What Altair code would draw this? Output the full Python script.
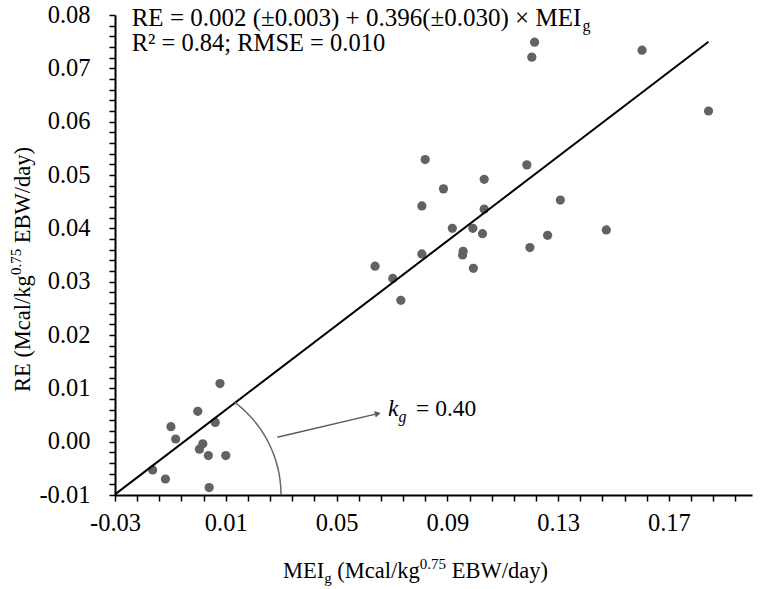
import math
import numpy as np
import pandas as pd
import altair as alt

FONT = "Liberation Serif"

# ---- data ----
mei = [-0.0164, -0.0118, -0.0098, -0.0081, -0.0001, 0.0017, 0.0005, 0.0037, 0.0062, 0.0079, 0.0100, 0.0040,
       0.0820, 0.1187, 0.1033, 0.0886, 0.0808, 0.1308, 0.1033, 0.0918, 0.0992, 0.1027, 0.1262, 0.1474,
       0.1198, 0.0808, 0.0957, 0.0955, 0.0639, 0.0703, 0.0994, 0.0732,
       0.1215, 0.1205, 0.1603, 0.1843]
re = [-0.0053, -0.0070, 0.0028, 0.0005, 0.0057, -0.0004, -0.0014, -0.0026, 0.0036, 0.0109, -0.0026, -0.0086,
      0.0529, 0.0519, 0.0492, 0.0474, 0.0442, 0.0453, 0.0436, 0.0400, 0.0400, 0.0390, 0.0387, 0.0397,
      0.0364, 0.0352, 0.0357, 0.0350, 0.0329, 0.0306, 0.0325, 0.0265,
      0.0749, 0.0721, 0.0734, 0.0620]

intercept = 0.002
slope = 0.396
x_domain = [-0.03, 0.20]
y_domain = [-0.01, 0.08]
x_major = [-0.03, 0.01, 0.05, 0.09, 0.13, 0.17]
y_major = [-0.01, 0.00, 0.01, 0.02, 0.03, 0.04, 0.05, 0.06, 0.07, 0.08]
x_ticks = [round(-0.03 + 0.008 * i, 3) + 0.0 for i in range(29)]
y_ticks = [round(-0.01 + 0.002 * i, 3) + 0.0 for i in range(46)]

# ---- layout ----
W, H = 637, 480
PL, PT = 115, 15
LBL = 24.5

x_axis = alt.Axis(values=x_ticks, title=None, grid=False,
                  labelExpr="round((datum.value + 0.03) * 1000) % 40 == 0 ? replace(format(datum.value, '.2f'), '\u2212', '-') : ''",
                  tickSize=6, tickWidth=1.5, tickColor="black", domainColor="black", domainWidth=2,
                  labelFont=FONT, labelFontSize=LBL, labelColor="black", labelPadding=10,
                  labelFlush=False, labelOverlap=False, labelAngle=0)
y_axis = alt.Axis(values=y_ticks, title=None, grid=False,
                  labelExpr="round((datum.value + 0.01) * 1000) % 10 == 0 ? replace(format(datum.value, '.2f'), '\u2212', '-') : ''",
                  tickSize=6, tickWidth=1.5, tickColor="black", domainColor="black", domainWidth=2,
                  labelFont=FONT, labelFontSize=LBL, labelColor="black", labelPadding=19,
                  labelOverlap=False)

X = alt.X("x:Q", scale=alt.Scale(domain=x_domain, nice=False, zero=False), axis=x_axis)
Y = alt.Y("y:Q", scale=alt.Scale(domain=y_domain, nice=False, zero=False), axis=y_axis)

pts = pd.DataFrame({"x": mei, "y": re})
points = alt.Chart(pts).mark_circle(size=85, color="#626262", opacity=1).encode(x=X, y=Y)

lx = [x_domain[0], max(mei)]
line_df = pd.DataFrame({"x": lx, "y": [intercept + slope * v for v in lx]})
reg = alt.Chart(line_df).mark_line(color="black", strokeWidth=2).encode(x=X, y=Y)

# angle arc (annotation), in data units
px_per_x = W / (x_domain[1] - x_domain[0])
px_per_y = H / (y_domain[1] - y_domain[0])
arc_cx = x_domain[0] + 50 / px_per_x
arc_r = 116
ang = np.linspace(math.radians(53), 0, 40)
arc_df = pd.DataFrame({
    "x": arc_cx + arc_r * np.cos(ang) / px_per_x,
    "y": y_domain[0] + arc_r * np.sin(ang) / px_per_y,
    "o": np.arange(len(ang)),
})
arc = alt.Chart(arc_df).mark_line(color="#666666", strokeWidth=1.5).encode(x=X, y=Y, order="o:Q")


def txt(s, x, y, size, italic=False, angle=0, color="black"):
    return alt.Chart(pd.DataFrame({"t": [s]})).mark_text(
        align="left", baseline="alphabetic", font=FONT, fontSize=size,
        fontStyle="italic" if italic else "normal", angle=angle, color=color
    ).encode(x=alt.value(x - PL), y=alt.value(y - PT), text="t:N")


# arrow
ax0, ay0 = 277.3, 437.3
tipx, tipy = 381.7, 412.7
dx, dy = tipx - ax0, tipy - ay0
L = math.hypot(dx, dy)
ux, uy = dx / L, dy / L
hx, hy = tipx - 4 * ux, tipy - 4 * uy
arrow_line = alt.Chart(pd.DataFrame({"a": [0]})).mark_rule(color="#5a5a5a", strokeWidth=1.5).encode(
    x=alt.value(ax0 - PL), y=alt.value(ay0 - PT), x2=alt.value(hx - PL), y2=alt.value(hy - PT))
arrow_head = alt.Chart(pd.DataFrame({"a": [0]})).mark_point(
    shape="triangle-right", filled=True, size=45, color="#5a5a5a", opacity=1,
    angle=(math.degrees(math.atan2(dy, dx)) + 360) % 360
).encode(x=alt.value(hx - PL), y=alt.value(hy - PT))

EQ = 25
eq1 = "RE = 0.002 (±0.003) + 0.396(±0.030) × MEI"
eq1_w = 18.013 * EQ
texts = [
    txt(eq1, 131.7, 26, EQ), txt("g", 131.7 + eq1_w + 0.5, 31, 16),
    txt("R² = 0.84; RMSE = 0.010", 131.7, 50.5, 24.5),
    # k_g annotation
    txt("k", 388, 416, 23.5, italic=True), txt("g", 398.5, 421.5, 16, italic=True), txt("= 0.40", 416, 416, 23.5),
]

# x-axis title: MEI_g (Mcal/kg^0.75 EBW/day)
TS, SS = 22.5, 15
xt0, xb = 283, 578
texts += [
    txt("MEI", xt0, xb, TS),
    txt("g", xt0 + 41.2, xb + 5, SS),
    txt("(Mcal/kg", xt0 + 54.3, xb, TS),
    txt("0.75", xt0 + 136.8, xb - 9, SS),
    txt("EBW/day)", xt0 + 168.7, xb, TS),
]
# y-axis title (rotated)
yb_x, yt0 = 30, 392
texts += [
    txt("RE (Mcal/kg", yb_x, yt0, TS, angle=270),
    txt("0.75", yb_x - 9, yt0 - 116.9, SS, angle=270),
    txt("EBW/day)", yb_x, yt0 - 148.8, TS, angle=270),
]

chart = alt.layer(points, reg, arc, arrow_line, arrow_head, *texts).properties(
    width=W, height=H,
    autosize=alt.AutoSizeParams(type="none"),
    padding={"left": PL, "top": PT, "right": 762 - PL - W, "bottom": 589 - PT - H},
    background="white",
).configure_view(stroke=None).configure_axis(
    labelFont=FONT, labelFontSize=LBL, labelColor="black"
).configure_text(font=FONT)

chart.save("out.html", embed_options={"renderer": "svg", "actions": False})
